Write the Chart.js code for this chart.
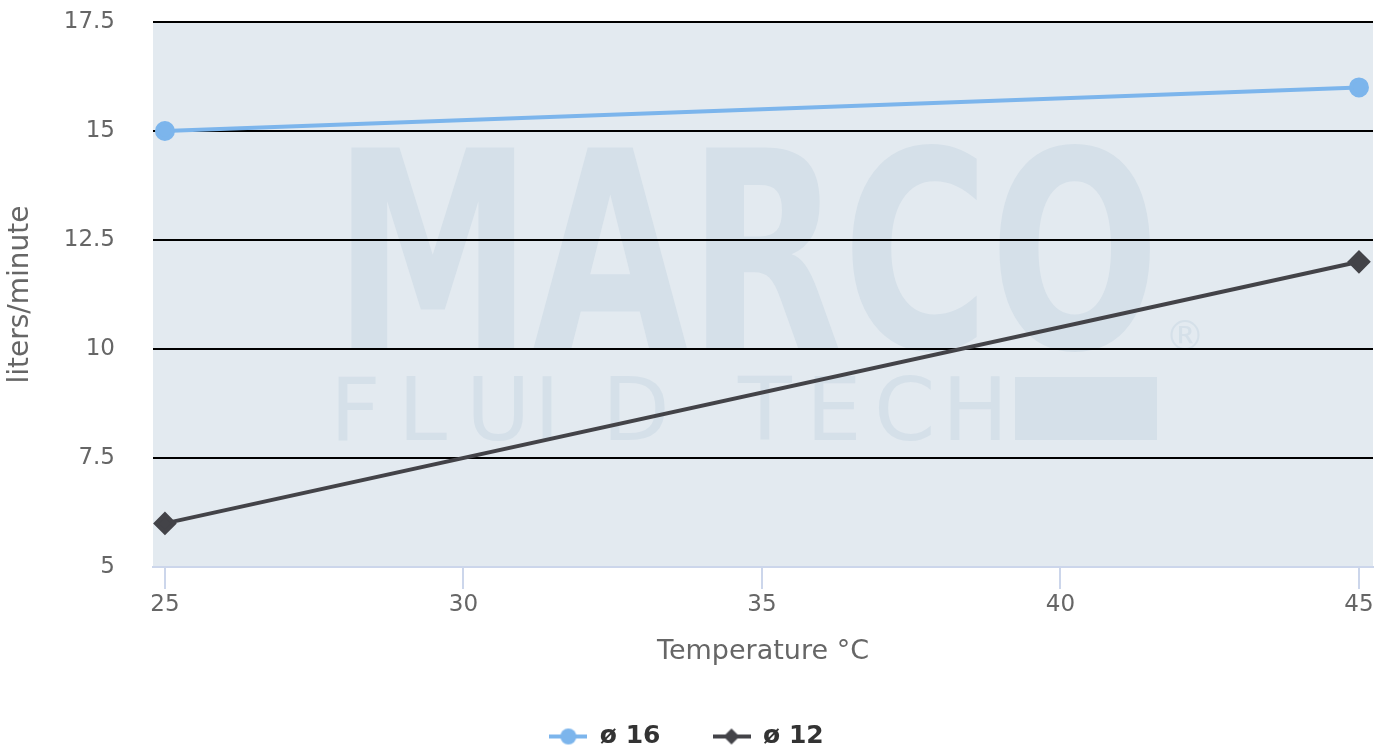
<!DOCTYPE html>
<html>
<head>
<meta charset="utf-8">
<script src="https://cdn.jsdelivr.net/npm/chart.js@4.4.0/dist/chart.umd.min.js"></script>
<style>
  html, body { margin: 0; padding: 0; background: #fff; }
  #wrap { width: 1389px; height: 749px; }
</style>
</head>
<body>
<div id="wrap"><canvas id="myChart"></canvas></div>
<script>
const temps = [25, 45];
const flow16 = [15, 16];
const flow12 = [6, 12];
const xTicks = [25, 30, 35, 40, 45];
const seriesNames = ['ø 16', 'ø 12'];
const colors = ['#7cb5ec', '#434348'];

const FONT = '"DejaVu Sans", sans-serif';

// little legend symbol: a line with the marker on top
function symbol(color, shape) {
    const c = document.createElement('canvas');
    c.width = 38; c.height = 20;
    const g = c.getContext('2d');
    g.strokeStyle = color;
    g.lineWidth = 4;
    g.beginPath(); g.moveTo(0, 10); g.lineTo(38, 10); g.stroke();
    g.fillStyle = color;
    g.beginPath();
    if (shape === 'circle') {
        g.arc(19, 10, 8, 0, Math.PI * 2);
    } else {
        g.moveTo(19, 2); g.lineTo(27, 10); g.lineTo(19, 18); g.lineTo(11, 10); g.closePath();
    }
    g.fill();
    return c;
}

// plot background + watermark, under the grid
const fondo = {
    id: 'fondo',
    beforeDraw(chart) {
        const { ctx, chartArea: a } = chart;
        ctx.save();
        ctx.fillStyle = '#e3eaf0';
        ctx.fillRect(a.left, a.top, a.right - a.left, a.bottom - a.top);
        ctx.fillStyle = '#d5e0e9';
        ctx.font = 'bold 275px ' + FONT;
        ctx.textBaseline = 'alphabetic';
        ctx.textAlign = 'left';
        ctx.fillText('MARCO', 333, 348, 827);
        ctx.font = '88px ' + FONT;
        const letters = 'FLUID TECH'.split('');
        let x = 330;
        for (const l of letters) {
            if (l !== ' ') ctx.fillText(l, x, 440);
            x += 68;
        }
        ctx.fillRect(1015, 377, 142, 63);
        ctx.font = '40px ' + FONT;
        ctx.fillText('®', 1165, 350);
        ctx.restore();
    }
};

const data = {
    datasets: [{
        label: seriesNames[0],
        data: temps.map((t, i) => ({ x: t, y: flow16[i] })),
        borderColor: colors[0],
        backgroundColor: colors[0],
        borderWidth: 4,
        pointStyle: 'circle',
        pointRadius: 8,
        pointHoverRadius: 8,
        legendSymbol: symbol(colors[0], 'circle')
    }, {
        label: seriesNames[1],
        data: temps.map((t, i) => ({ x: t, y: flow12[i] })),
        borderColor: colors[1],
        backgroundColor: colors[1],
        borderWidth: 4,
        pointStyle: 'rectRot',
        pointRadius: 9,
        pointHoverRadius: 9,
        legendSymbol: symbol(colors[1], 'diamond')
    }]
};

const config = {
    type: 'line',
    data,
    plugins: [fondo],
    options: {
        responsive: true,
        maintainAspectRatio: false,
        animation: false,
        layout: { padding: { top: 22, right: 16, left: 0, bottom: -10 } },
        plugins: {
            tooltip: { enabled: false },
            legend: {
                position: 'bottom',
                labels: {
                    usePointStyle: true,
                    pointStyleWidth: 38,
                    color: '#333333',
                    font: { family: FONT, size: 25, weight: 'bold' },
                    padding: 52,
                    generateLabels(chart) {
                        return chart.data.datasets.map((ds, i) => ({
                            text: ds.label,
                            pointStyle: ds.legendSymbol,
                            fillStyle: ds.borderColor,
                            strokeStyle: ds.borderColor,
                            lineWidth: 0,
                            fontColor: '#333333',
                            datasetIndex: i,
                            hidden: false
                        }));
                    }
                }
            }
        },
        scales: {
            x: {
                type: 'linear',
                min: 24.8,
                max: 45.235,
                afterBuildTicks(s) { s.ticks = xTicks.map(v => ({ value: v })); },
                afterFit(s) { s.height = 105; s.paddingLeft = 0; s.paddingRight = 0; },
                grid: {
                    drawOnChartArea: false,
                    color: '#ccd6eb',
                    lineWidth: 2,
                    tickLength: 22
                },
                border: { color: '#ccd6eb', width: 2 },
                ticks: {
                    color: '#666666',
                    font: { family: FONT, size: 23 },
                    padding: 2,
                    maxRotation: 0
                },
                title: {
                    display: true,
                    text: 'Temperature °C',
                    color: '#666666',
                    font: { family: FONT, size: 27 },
                    padding: { top: 12 }
                }
            },
            y: {
                min: 5,
                max: 17.5,
                afterFit(s) { s.width = 153; s.paddingTop = 0; s.paddingBottom = 0; },
                ticks: {
                    stepSize: 2.5,
                    color: '#666666',
                    font: { family: FONT, size: 23 },
                    padding: 38
                },
                grid: {
                    color: c => (c.tick && c.tick.value === 5) ? 'rgba(0,0,0,0)' : '#000000',
                    lineWidth: 2,
                    drawTicks: false
                },
                border: { display: false },
                title: {
                    display: true,
                    text: 'liters/minute',
                    color: '#666666',
                    font: { family: FONT, size: 28 },
                    padding: { top: 4, bottom: 0 }
                }
            }
        }
    }
};

const myChart = new Chart(document.getElementById('myChart'), config);
</script>
</body>
</html>
